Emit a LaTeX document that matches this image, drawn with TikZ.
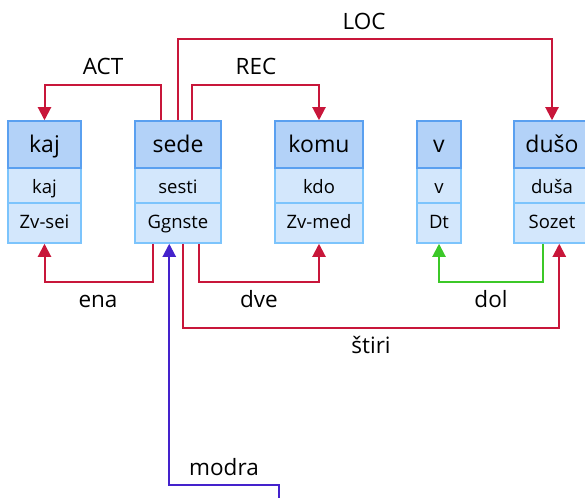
\documentclass[tikz,border=0pt]{standalone}
\usepackage{fontspec}
\setmainfont{Open Sans}
\usetikzlibrary{arrows.meta}
\definecolor{hfill}{HTML}{B3D2F8}
\definecolor{hdraw}{HTML}{5AA0F0}
\definecolor{rfill}{HTML}{D3E7FC}
\definecolor{rdraw}{HTML}{7CC4FC}
\definecolor{relred}{HTML}{C8163A}
\definecolor{relgreen}{HTML}{3CC828}
\definecolor{relblue}{HTML}{4422CC}
\tikzset{
  hdr/.style={draw=hdraw, fill=hfill, line width=1.5pt, inner sep=0pt, minimum height=47pt,
    font=\fontsize{23}{27}\selectfont, text height=15pt, text depth=0pt},
  rowa/.style={draw=rdraw, fill=rfill, line width=1.5pt, inner sep=0pt, minimum height=35pt,
    font=\fontsize{18.5}{22}\selectfont, text height=15.6pt, text depth=0pt},
  rowb/.style={draw=rdraw, fill=rfill, line width=1.5pt, inner sep=0pt, minimum height=40pt,
    font=\fontsize{18.5}{22}\selectfont, text height=11pt, text depth=0pt},
  rel/.style={line width=2pt, line join=miter, -{Triangle[length=13pt,width=13pt]}},
  lbl/.style={anchor=base, inner sep=0pt, font=\fontsize{22.5}{27}\selectfont},
}
\begin{document}
\begin{tikzpicture}[x=1pt,y=-1pt]
\useasboundingbox (0,0) rectangle (585,497);
\clip (0,0) rectangle (585,497);
% boxes
\foreach \n/\cx/\w/\a/\b/\c in {kaj/44.5/73/kaj/kaj/Zv-sei, sede/178/86/sede/sesti/Ggnste,
  komu/319/88/komu/kdo/Zv-med, v/439/44/v/v/Dt, duso/552/76/dušo/duša/Sozet}{
  \node[rowa, minimum width=\w pt] (\n B) at (\cx,185.5) {\b};
  \node[rowb, minimum width=\w pt] (\n C) at (\cx,223) {\c};
  \node[hdr, minimum width=\w pt] (\n H) at (\cx,144.5) {\a};
}
\coordinate (yact) at (0,85);
\coordinate (yloc) at (0,39);
\coordinate (ylow) at (0,282);
\coordinate (ystiri) at (0,328);
\coordinate (blueend) at (279,500);
\coordinate (yblue) at (0,485);
% top connectors
\draw[rel, relred] ([xshift=27pt]sedeH.north west) |- (kajH.north |- yact) -- (kajH.north);
\draw[rel, relred] (sedeH.north) |- (dusoH.north |- yloc) -- (dusoH.north);
\draw[rel, relred] ([xshift=58pt]sedeH.north west) |- (komuH.north |- yact) -- (komuH.north);
% bottom connectors
\draw[rel, relred] ([xshift=19pt]sedeC.south west) |- (kajC.south |- ylow) -- (kajC.south);
\draw[rel, relred] ([xshift=65pt]sedeC.south west) |- (komuC.south |- ylow) -- (komuC.south);
\draw[rel, relred] ([xshift=49pt]sedeC.south west) |- ([xshift=46pt]dusoC.south west |- ystiri) -- ([xshift=46pt]dusoC.south west);
\draw[rel, relgreen] ([xshift=30pt]dusoC.south west) |- (vC.south |- ylow) -- (vC.south);
\draw[rel, relblue] (blueend) |- ([xshift=35pt]sedeC.south west |- yblue) -- ([xshift=35pt]sedeC.south west);
% labels
\node[lbl] (lact) at (103,75) {ACT};
\node[lbl] (lrec) at (256,75) {REC};
\node[lbl] (lloc) at (364,30) {LOC};
\node[lbl] (lena) at (98,307) {ena};
\node[lbl] (ldve) at (259,307) {dve};
\node[lbl] (ldol) at (491,307) {dol};
\node[lbl] (lstiri) at (371,353) {štiri};
\node[lbl] (lmodra) at (224,475) {modra};
\end{tikzpicture}
\end{document}
